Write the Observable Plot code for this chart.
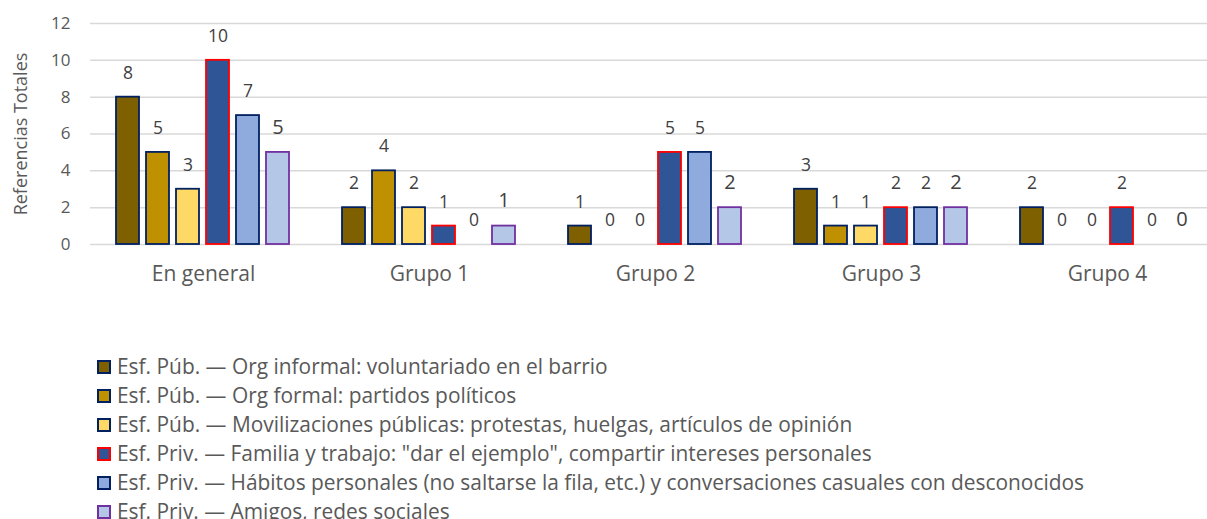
<!DOCTYPE html>
<html>
<head>
<meta charset="utf-8">
<script src="https://cdn.jsdelivr.net/npm/d3@7"></script>
<script src="https://cdn.jsdelivr.net/npm/@observablehq/plot@0.6"></script>
<style>
  body { margin: 0; background: #fff; font-family: "Open Sans", sans-serif; }
  #chart svg { display: block; }
  #legend { margin-top: 52px; padding-left: 97px; color: #595959; font-size: 20.9px; }
  .row { height: 29px; line-height: 29px; display: flex; align-items: center; white-space: nowrap; }
  .sw { width: 14px; height: 14px; box-sizing: border-box; border: 2px solid; margin-right: 6px; flex: none; }
</style>
</head>
<body>
<div id="chart"></div>
<div id="legend"></div>
<script>
// ---- data ----
const groups = ["En general", "Grupo 1", "Grupo 2", "Grupo 3", "Grupo 4"];
const series = [
  "Esf. Púb. — Org informal: voluntariado en el barrio",
  "Esf. Púb. — Org formal: partidos políticos",
  "Esf. Púb. — Movilizaciones públicas: protestas, huelgas, artículos de opinión",
  "Esf. Priv. — Familia y trabajo: \"dar el ejemplo\", compartir intereses personales",
  "Esf. Priv. — Hábitos personales (no saltarse la fila, etc.) y conversaciones casuales con desconocidos",
  "Esf. Priv. — Amigos, redes sociales"
];
const voluntariado = [8, 2, 1, 3, 2];
const partidos     = [5, 4, 0, 1, 0];
const movilizacion = [3, 2, 0, 1, 0];
const familia      = [10, 1, 5, 2, 2];
const habitos      = [7, 0, 5, 2, 0];
const amigos       = [5, 1, 2, 2, 0];
const yTicks = [0, 2, 4, 6, 8, 10, 12];
const yLabel = "Referencias Totales";

// ---- styles ----
const fills   = ["#7F6000", "#BF9000", "#FFD966", "#2F5597", "#8FAADC", "#B4C7E7"];
const strokes = ["#002060", "#002060", "#002060", "#FF0000", "#002060", "#7030A0"];

const values = [voluntariado, partidos, movilizacion, familia, habitos, amigos];
const data = [];
groups.forEach((g, gi) => {
  series.forEach((s, si) => {
    data.push({group: g, series: s, si, value: values[si][gi]});
  });
});

const chart = Plot.plot({
  width: 1207,
  height: 300,
  marginTop: 23,
  marginBottom: 56,
  marginLeft: 88,
  marginRight: 0,
  style: {fontFamily: "'Open Sans', sans-serif", color: "#595959", background: "#fff"},
  fx: {domain: groups, range: [88, 1221], padding: 0, label: null},
  x: {domain: series, paddingInner: 0.224, paddingOuter: 0.853, axis: null},
  y: {domain: [0, 12], label: null},
  color: {type: "identity"},
  marks: [
    Plot.gridY(yTicks, {stroke: "#d9d9d9", strokeOpacity: 1, strokeWidth: 1.5}),
    Plot.barY(data.filter(d => d.value > 0), {
      fx: "group", x: "series", y: "value",
      fill: d => fills[d.si], stroke: d => strokes[d.si], strokeWidth: 1.8
    }),
    Plot.text(data.filter(d => d.si < 5), {
      fx: "group", x: "series", y: "value", text: d => String(d.value),
      dy: -24, fontSize: 17.5, fill: "#404040"
    }),
    Plot.text(data.filter(d => d.si === 5), {
      fx: "group", x: "series", y: "value", text: d => String(d.value),
      dy: -25, fontSize: 20, fill: "#404040"
    }),
    Plot.axisY(yTicks, {
      tickSize: 0, tickPadding: 20, fontSize: 17, fill: "#595959", label: null
    }),
    Plot.axisY([], {
      tickSize: 0, fontSize: 18, fill: "#595959",
      label: yLabel, labelArrow: "none", labelAnchor: "center", labelOffset: 76
    }),
    Plot.axisFx({anchor: "bottom", tickSize: 0, tickPadding: 22, fontSize: 21, fill: "#595959", label: null})
  ]
});
document.getElementById("chart").appendChild(chart);

const legend = document.getElementById("legend");
series.forEach((s, i) => {
  const row = document.createElement("div");
  row.className = "row";
  const sw = document.createElement("span");
  sw.className = "sw";
  sw.style.background = fills[i];
  sw.style.borderColor = strokes[i];
  const t = document.createElement("span");
  t.textContent = s;
  row.appendChild(sw);
  row.appendChild(t);
  legend.appendChild(row);
});
</script>
</body>
</html>
